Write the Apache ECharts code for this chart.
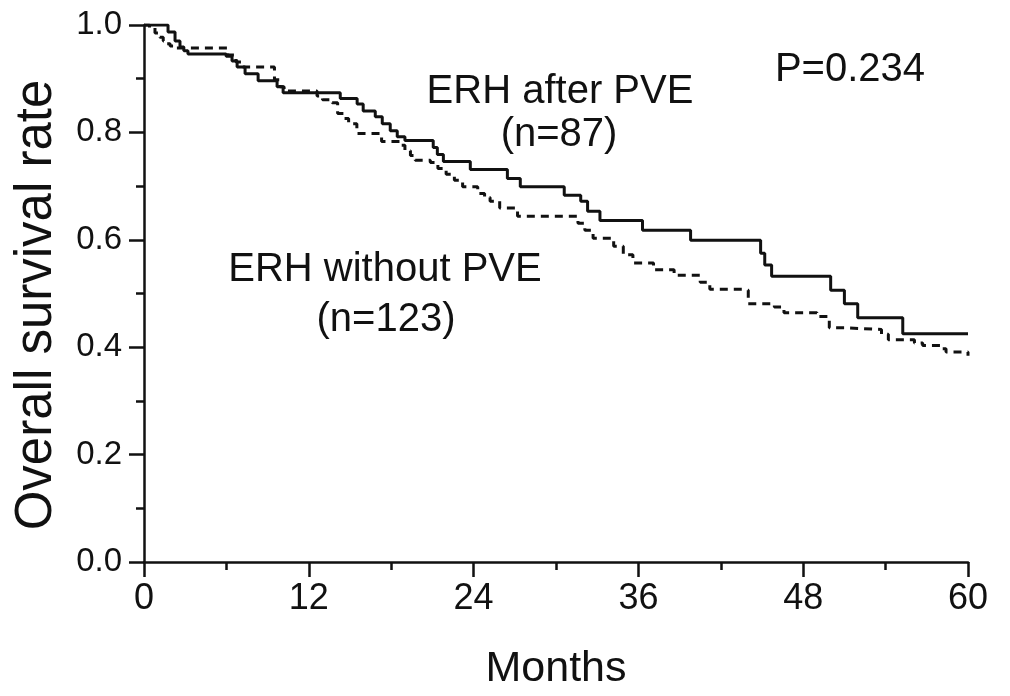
<!DOCTYPE html>
<html>
<head>
<meta charset="utf-8">
<script src="https://cdn.jsdelivr.net/npm/echarts@6/dist/echarts.min.js"></script>
<style>
  html, body { margin: 0; padding: 0; background: #fff; }
  #main { width: 1010px; height: 696px; }
</style>
</head>
<body>
<div id="main"></div>
<script>
// Kaplan-Meier steps (months, survival after the drop)
const afterMonths = [0, 1.75, 2.26, 2.62, 2.9, 3.2, 5.98, 6.41, 6.78, 7.36, 8.31, 9.69, 10.13, 14.29, 15.52, 15.96, 16.84, 17.35, 17.93, 18.44, 19.0, 21.06, 21.36, 21.8, 23.76, 26.46, 27.4, 30.6, 31.8, 32.3, 33.2, 36.3, 39.8, 44.9, 45.2, 45.7, 50.0, 51.0, 51.97, 55.25, 60];
const afterSurv = [1, 0.987, 0.970, 0.959, 0.952, 0.946, 0.942, 0.933, 0.922, 0.909, 0.896, 0.885, 0.874, 0.863, 0.853, 0.840, 0.829, 0.816, 0.803, 0.792, 0.785, 0.772, 0.759, 0.746, 0.731, 0.714, 0.699, 0.683, 0.672, 0.653, 0.636, 0.618, 0.599, 0.575, 0.553, 0.532, 0.506, 0.481, 0.455, 0.425, 0.425];

const withoutMonths = [0, 0.4, 0.8, 1.15, 1.4, 1.55, 1.9, 2.3, 6.1, 6.7, 7.2, 9.5, 9.9, 10.2, 12.6, 13.0, 13.7, 14.1, 14.6, 14.9, 15.5, 17.3, 18.7, 19.0, 19.4, 19.75, 20.85, 21.4, 22.0, 22.6, 23.2, 24.3, 24.8, 25.2, 25.9, 27.2, 31.6, 32.1, 32.7, 34.2, 34.9, 35.6, 37.1, 38.6, 40.5, 41.2, 43.6, 44.0, 45.9, 46.6, 49.0, 49.9, 51.2, 53.7, 54.2, 56.1, 56.7, 58.0, 58.4, 60];
const withoutSurv = [1, 0.995, 0.985, 0.977, 0.970, 0.965, 0.961, 0.957, 0.944, 0.931, 0.922, 0.898, 0.885, 0.877, 0.868, 0.861, 0.855, 0.835, 0.826, 0.816, 0.798, 0.783, 0.776, 0.766, 0.757, 0.748, 0.744, 0.733, 0.722, 0.711, 0.699, 0.686, 0.679, 0.672, 0.659, 0.644, 0.631, 0.618, 0.603, 0.588, 0.572, 0.557, 0.544, 0.534, 0.521, 0.508, 0.506, 0.481, 0.475, 0.464, 0.457, 0.436, 0.433, 0.424, 0.414, 0.408, 0.403, 0.397, 0.391, 0.384];

const xTicks = [0, 12, 24, 36, 48, 60];

const FONT = '"Liberation Sans", Arial, sans-serif';
const INK = '#111';

var chartDom = document.getElementById('main');
var myChart = echarts.init(chartDom);

const pairs = (xs, ys) => xs.map((x, i) => [x, ys[i]]);

const axisCommon = {
  axisLine: { show: true, lineStyle: { color: INK, width: 2.5 } },
  axisTick: { show: true, inside: false, length: 15, lineStyle: { color: INK, width: 2.5 } },
  minorTick: { show: true, splitNumber: 2, length: 8, lineStyle: { color: INK, width: 2.5 } },
  splitLine: { show: false },
};

const note = (text, x, y) => ({
  type: 'text', x: x, y: y,
  style: { text: text, font: '40px ' + FONT, fill: INK, align: 'center', verticalAlign: 'middle' },
});

var option = {
  backgroundColor: '#fff',
  animation: false,
  grid: { left: 144, right: 42, top: 25, bottom: 131, containLabel: false },
  xAxis: {
    type: 'value',
    min: xTicks[0],
    max: xTicks[xTicks.length - 1],
    interval: 12,
    ...axisCommon,
    axisLabel: { fontSize: 36, color: INK, fontFamily: FONT, margin: 19 },
    name: 'Months',
    nameLocation: 'middle',
    nameGap: 86,
    nameTextStyle: { fontSize: 43, color: INK, fontFamily: FONT },
  },
  yAxis: {
    type: 'value',
    min: 0,
    max: 1,
    interval: 0.2,
    ...axisCommon,
    axisLabel: {
      fontSize: 33, color: INK, fontFamily: FONT, margin: 22,
      formatter: (v) => v.toFixed(1),
    },
  },
  series: [
    {
      name: 'ERH after PVE',
      type: 'line',
      step: 'end',
      showSymbol: false,
      data: pairs(afterMonths, afterSurv),
      lineStyle: { color: INK, width: 3, type: 'solid' },
      z: 3,
    },
    {
      name: 'ERH without PVE',
      type: 'line',
      step: 'end',
      showSymbol: false,
      data: pairs(withoutMonths, withoutSurv),
      lineStyle: { color: INK, width: 3, type: [8, 6] },
      z: 2,
    },
  ],
  graphic: [
    // y axis title sits a little below the axis centre in the original
    {
      type: 'text', x: 37, y: 305, rotation: Math.PI / 2,
      style: { text: 'Overall survival rate', font: '51px ' + FONT, fill: INK, align: 'center', verticalAlign: 'middle' },
    },
    note('ERH after PVE', 560, 92),
    note('(n=87)', 559, 135),
    note('P=0.234', 850, 70),
    note('ERH without PVE', 385, 270),
    note('(n=123)', 386, 320),
  ],
};

option && myChart.setOption(option);
</script>
</body>
</html>
